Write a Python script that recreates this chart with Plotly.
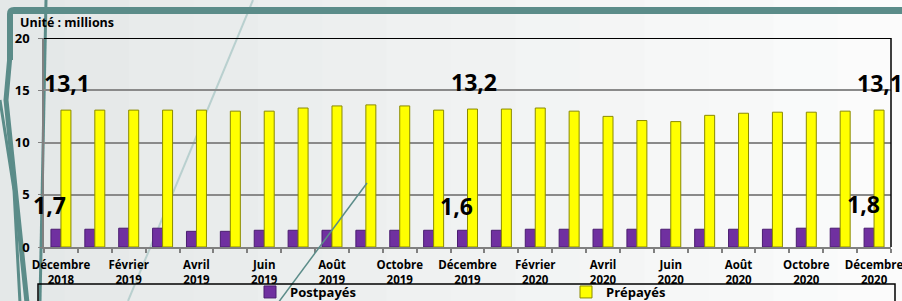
import plotly.graph_objects as go

months = ["Décembre", "Janvier", "Février", "Mars", "Avril", "Mai", "Juin", "Juillet",
          "Août", "Septembre", "Octobre", "Novembre",
          "Décembre", "Janvier", "Février", "Mars", "Avril", "Mai", "Juin", "Juillet",
          "Août", "Septembre", "Octobre", "Novembre", "Décembre"]
years = ["2018"] + ["2019"] * 12 + ["2020"] * 12
postpayes = [1.7, 1.7, 1.8, 1.8, 1.5, 1.5, 1.6, 1.6, 1.6, 1.6, 1.6, 1.6, 1.6,
             1.6, 1.7, 1.7, 1.7, 1.7, 1.7, 1.7, 1.7, 1.7, 1.8, 1.8, 1.8]
prepayes = [13.1, 13.1, 13.1, 13.1, 13.1, 13.0, 13.0, 13.3, 13.5, 13.6, 13.5, 13.1, 13.2,
            13.2, 13.3, 13.0, 12.5, 12.1, 12.0, 12.6, 12.8, 12.9, 12.9, 13.0, 13.1]
labelled = [0, 12, 24]
y_ticks = [0, 5, 10, 15, 20]

W, H = 902, 301
L, R, T, B = 44, 11, 38, 54
PW, PH = W - L - R, H - T - B


def fx(x):
    return (x - L) / PW


def fy(y):
    return (H - B - y) / PH


idx = list(range(len(months)))
ticktext = [f"<b>{m}<br>{y}</b>" for m, y in zip(months, years)]
FONT = "Open Sans"
TEAL = "#5b8c89"

fig = go.Figure()
fig.add_trace(go.Bar(x=idx, y=postpayes, name="<b>Postpayés</b>",
                     marker=dict(color="#7030a0", line=dict(color="#4a1d70", width=1))))
fig.add_trace(go.Bar(x=idx, y=prepayes, name="<b>Prépayés</b>",
                     marker=dict(color="#ffff00", line=dict(color="#8a8a00", width=1))))

shapes = []
# background gradient strips
n = 14
c0, c1 = (0xe4, 0xe8, 0xe8), (0xfb, 0xfb, 0xfb)
for i in range(n):
    t = i / (n - 1)
    col = "rgb(%d,%d,%d)" % tuple(round(a + (b - a) * t) for a, b in zip(c0, c1))
    shapes.append(dict(type="rect", xref="paper", yref="paper", layer="below",
                       x0=fx(W * i / n), x1=fx(W * (i + 1) / n + 1), y0=fy(H), y1=fy(0),
                       fillcolor=col, line=dict(width=0)))
# decorative lines
shapes.append(dict(type="line", xref="paper", yref="paper", layer="below",
                   x0=fx(253), y0=fy(0), x1=fx(128), y1=fy(H), line=dict(color="#b9d0cf", width=2)))
shapes.append(dict(type="line", xref="paper", yref="paper", layer="below",
                   x0=fx(46), y0=fy(0), x1=fx(40), y1=fy(H), line=dict(color=TEAL, width=3)))
shapes.append(dict(type="path", xref="paper", yref="paper", layer="below",
                   path=f"M{fx(W + 5)},{fy(7)} L{fx(14)},{fy(7)} Q{fx(7)},{fy(7)} {fx(7)},{fy(14)} "
                        f"L{fx(7)},{fy(60)} L{fx(13)},{fy(60)} L{fx(13)},{fy(14)} L{fx(W + 5)},{fy(14)} Z",
                   fillcolor=TEAL, line=dict(width=0)))
shapes.append(dict(type="path", xref="paper", yref="paper", layer="below",
                   path=f"M{fx(10)},{fy(55)} L{fx(6)},{fy(100)} L{fx(27)},{fy(H + 2)}",
                   line=dict(color=TEAL, width=5)))
shapes.append(dict(type="path", xref="paper", yref="paper", layer="below",
                   path=f"M{fx(0)},{fy(100)} L{fx(14)},{fy(190)} L{fx(20)},{fy(H + 2)}",
                   line=dict(color=TEAL, width=3)))
shapes.append(dict(type="line", xref="paper", yref="paper", layer="above",
                   x0=fx(367), y0=fy(183), x1=fx(278), y1=fy(H + 2), line=dict(color=TEAL, width=1.5)))
# plot frame top and right
shapes.append(dict(type="line", xref="x domain", yref="y", x0=0, x1=1, y0=20, y1=20,
                   line=dict(color="black", width=2)))
shapes.append(dict(type="line", xref="x domain", yref="y", x0=1, x1=1, y0=0, y1=20,
                   line=dict(color="black", width=1.5)))
# legend box
shapes.append(dict(type="rect", xref="paper", yref="paper", layer="above",
                   x0=fx(38), x1=fx(895), y0=fy(H + 3), y1=fy(284),
                   line=dict(color="black", width=1.5), fillcolor="rgba(0,0,0,0)"))

annotations = [dict(xref="paper", yref="paper", x=fx(18), y=fy(23), xanchor="left", yanchor="middle",
                    text="<b>Unité : millions</b>", showarrow=False,
                    font=dict(family=FONT, size=12.5, color="black"))]
for i in labelled:
    annotations.append(dict(x=i, y=prepayes[i], xref="x", yref="y", showarrow=False,
                            text="<b>" + f"{prepayes[i]:.1f}".replace(".", ",") + "</b>", xshift=6, yshift=27,
                            yanchor="middle", font=dict(family=FONT, size=23, color="black")))
    annotations.append(dict(x=i, y=postpayes[i], xref="x", yref="y", showarrow=False,
                            text="<b>" + f"{postpayes[i]:.1f}".replace(".", ",") + "</b>", xshift=-11, yshift=24,
                            yanchor="middle", font=dict(family=FONT, size=23, color="black")))

fig.update_layout(
    width=W, height=H, margin=dict(l=L, r=R, t=T, b=B, autoexpand=False),
    paper_bgcolor="#eef0f0", plot_bgcolor="rgba(0,0,0,0)",
    barmode="group", bargap=0.41, bargroupgap=0.0,
    font=dict(family=FONT, color="black"),
    shapes=shapes, annotations=annotations,
    legend=dict(orientation="h", x=fx(250), y=fy(277), xanchor="left", yanchor="top",
                entrywidth=271, bgcolor="rgba(0,0,0,0)", itemwidth=30,
                font=dict(family=FONT, size=13, color="black")),
    xaxis=dict(range=[-0.5, len(months) - 0.5], tickvals=idx[::2], ticktext=ticktext[::2],
               ticks="", showgrid=False, zeroline=False, showline=True, linecolor="#808080", linewidth=1.5,
               ticklabelstandoff=6, automargin=False, ticklabeloverflow="allow",
               tickfont=dict(family=FONT, size=11.5, color="black"),
               minor=dict(ticks="outside", tick0=-0.5, dtick=1, ticklen=4, tickcolor="#808080",
                          tickwidth=1.5, showgrid=False)),
    yaxis=dict(range=[0, 20], tickvals=y_ticks, showgrid=True, gridcolor="#8a8a8a", gridwidth=1.5,
               zeroline=False, showline=True, linecolor="#808080", linewidth=1.5, automargin=False,
               ticks="outside", ticklen=4, tickcolor="#808080", ticklabelstandoff=6,
               tickfont=dict(family=FONT, size=13, color="black", weight="bold")),
)

fig.write_html("out.html", config={"displayModeBar": False},
               post_script="document.body.style.margin='0';document.body.style.overflow='hidden';")
